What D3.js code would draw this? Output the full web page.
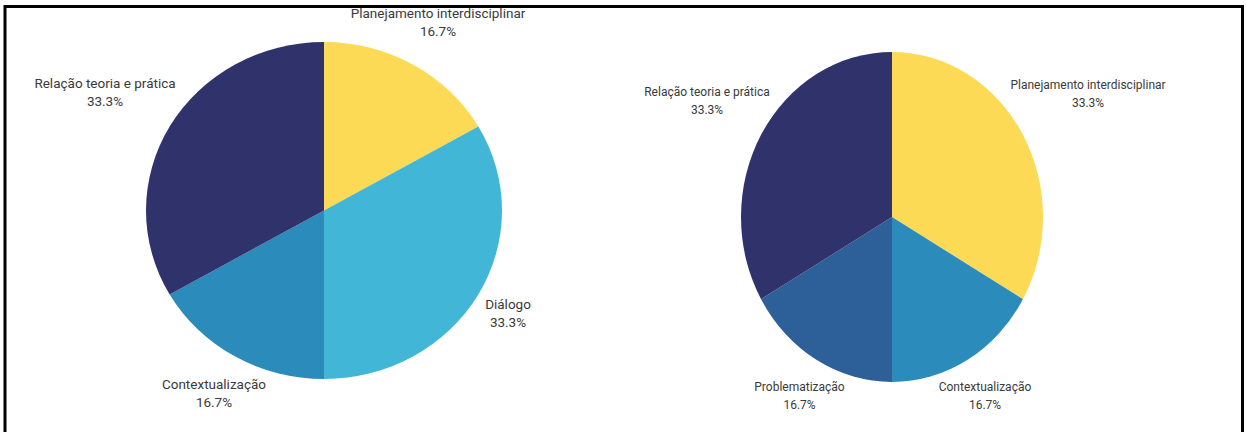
<!DOCTYPE html>
<html>
<head>
<meta charset="utf-8">
<script src="https://cdn.jsdelivr.net/npm/d3@7"></script>
<style>
  html, body { margin: 0; padding: 0; background: #fff; }
  svg { display: block; }
</style>
</head>
<body>
<svg id="chart" width="1246" height="432"></svg>
<script>
// ---- data ----
const leftCategories = ["Planejamento interdisciplinar", "Diálogo", "Contextualização", "Relação teoria e prática"];
const leftValues = [16.7, 33.3, 16.7, 33.3];
const leftLabels = ["16.7%", "33.3%", "16.7%", "33.3%"];

const rightCategories = ["Planejamento interdisciplinar", "Contextualização", "Problematização", "Relação teoria e prática"];
const rightValues = [33.3, 16.7, 16.7, 33.3];
const rightLabels = ["33.3%", "16.7%", "16.7%", "33.3%"];

const colorMap = {
  "Planejamento interdisciplinar": "#FCDA56",
  "Diálogo": "#42B6D6",
  "Contextualização": "#2B8BBA",
  "Relação teoria e prática": "#30336B",
  "Problematização": "#2D5F99"
};

const svg = d3.select("#chart");

// frame (table border)
svg.append("rect").attr("x", 5).attr("y", 6.5).attr("width", 1237.5).attr("height", 440)
  .attr("fill", "none").attr("stroke", "#000").attr("stroke-width", 3);

function drawPie(cfg) {
  const R = 100;
  const pie = d3.pie().sort(null).value(d => d.value);
  const arc = d3.arc().innerRadius(0).outerRadius(R);
  const data = cfg.categories.map((c, i) => ({ name: c, value: cfg.values[i], label: cfg.labels[i] }));
  const g = svg.append("g")
    .attr("transform", `translate(${cfg.cx},${cfg.cy}) scale(${cfg.rx / R},${cfg.ry / R})`);
  g.selectAll("path").data(pie(data)).join("path")
    .attr("d", arc)
    .attr("fill", d => colorMap[d.data.name]);

  const lg = svg.append("g");
  data.forEach((d, i) => {
    const p = cfg.labelPos[i];
    const t = lg.append("text")
      .attr("x", p[0]).attr("y", p[1])
      .attr("text-anchor", "middle")
      .attr("font-family", cfg.font)
      .attr("font-size", cfg.fontSize)
      .attr("fill", "#3a3a3a");
    t.append("tspan").attr("x", p[0]).attr("dy", 0).text(d.name);
    t.append("tspan").attr("x", p[0]).attr("dy", cfg.lineGap).text(d.label);
  });
}

drawPie({
  categories: leftCategories, values: leftValues, labels: leftLabels,
  cx: 324, cy: 210.5, rx: 178, ry: 168.5,
  font: "Roboto, 'Liberation Sans', sans-serif", fontSize: 13.5, lineGap: 18,
  labelPos: [[438, 18], [508, 309], [214, 389], [105, 88]]
});

drawPie({
  categories: rightCategories, values: rightValues, labels: rightLabels,
  cx: 892, cy: 217, rx: 151, ry: 165,
  font: "Roboto, 'Liberation Sans', sans-serif", fontSize: 12, lineGap: 18,
  labelPos: [[1088, 89], [985, 391], [799.5, 391], [707, 96]]
});
</script>
</body>
</html>
